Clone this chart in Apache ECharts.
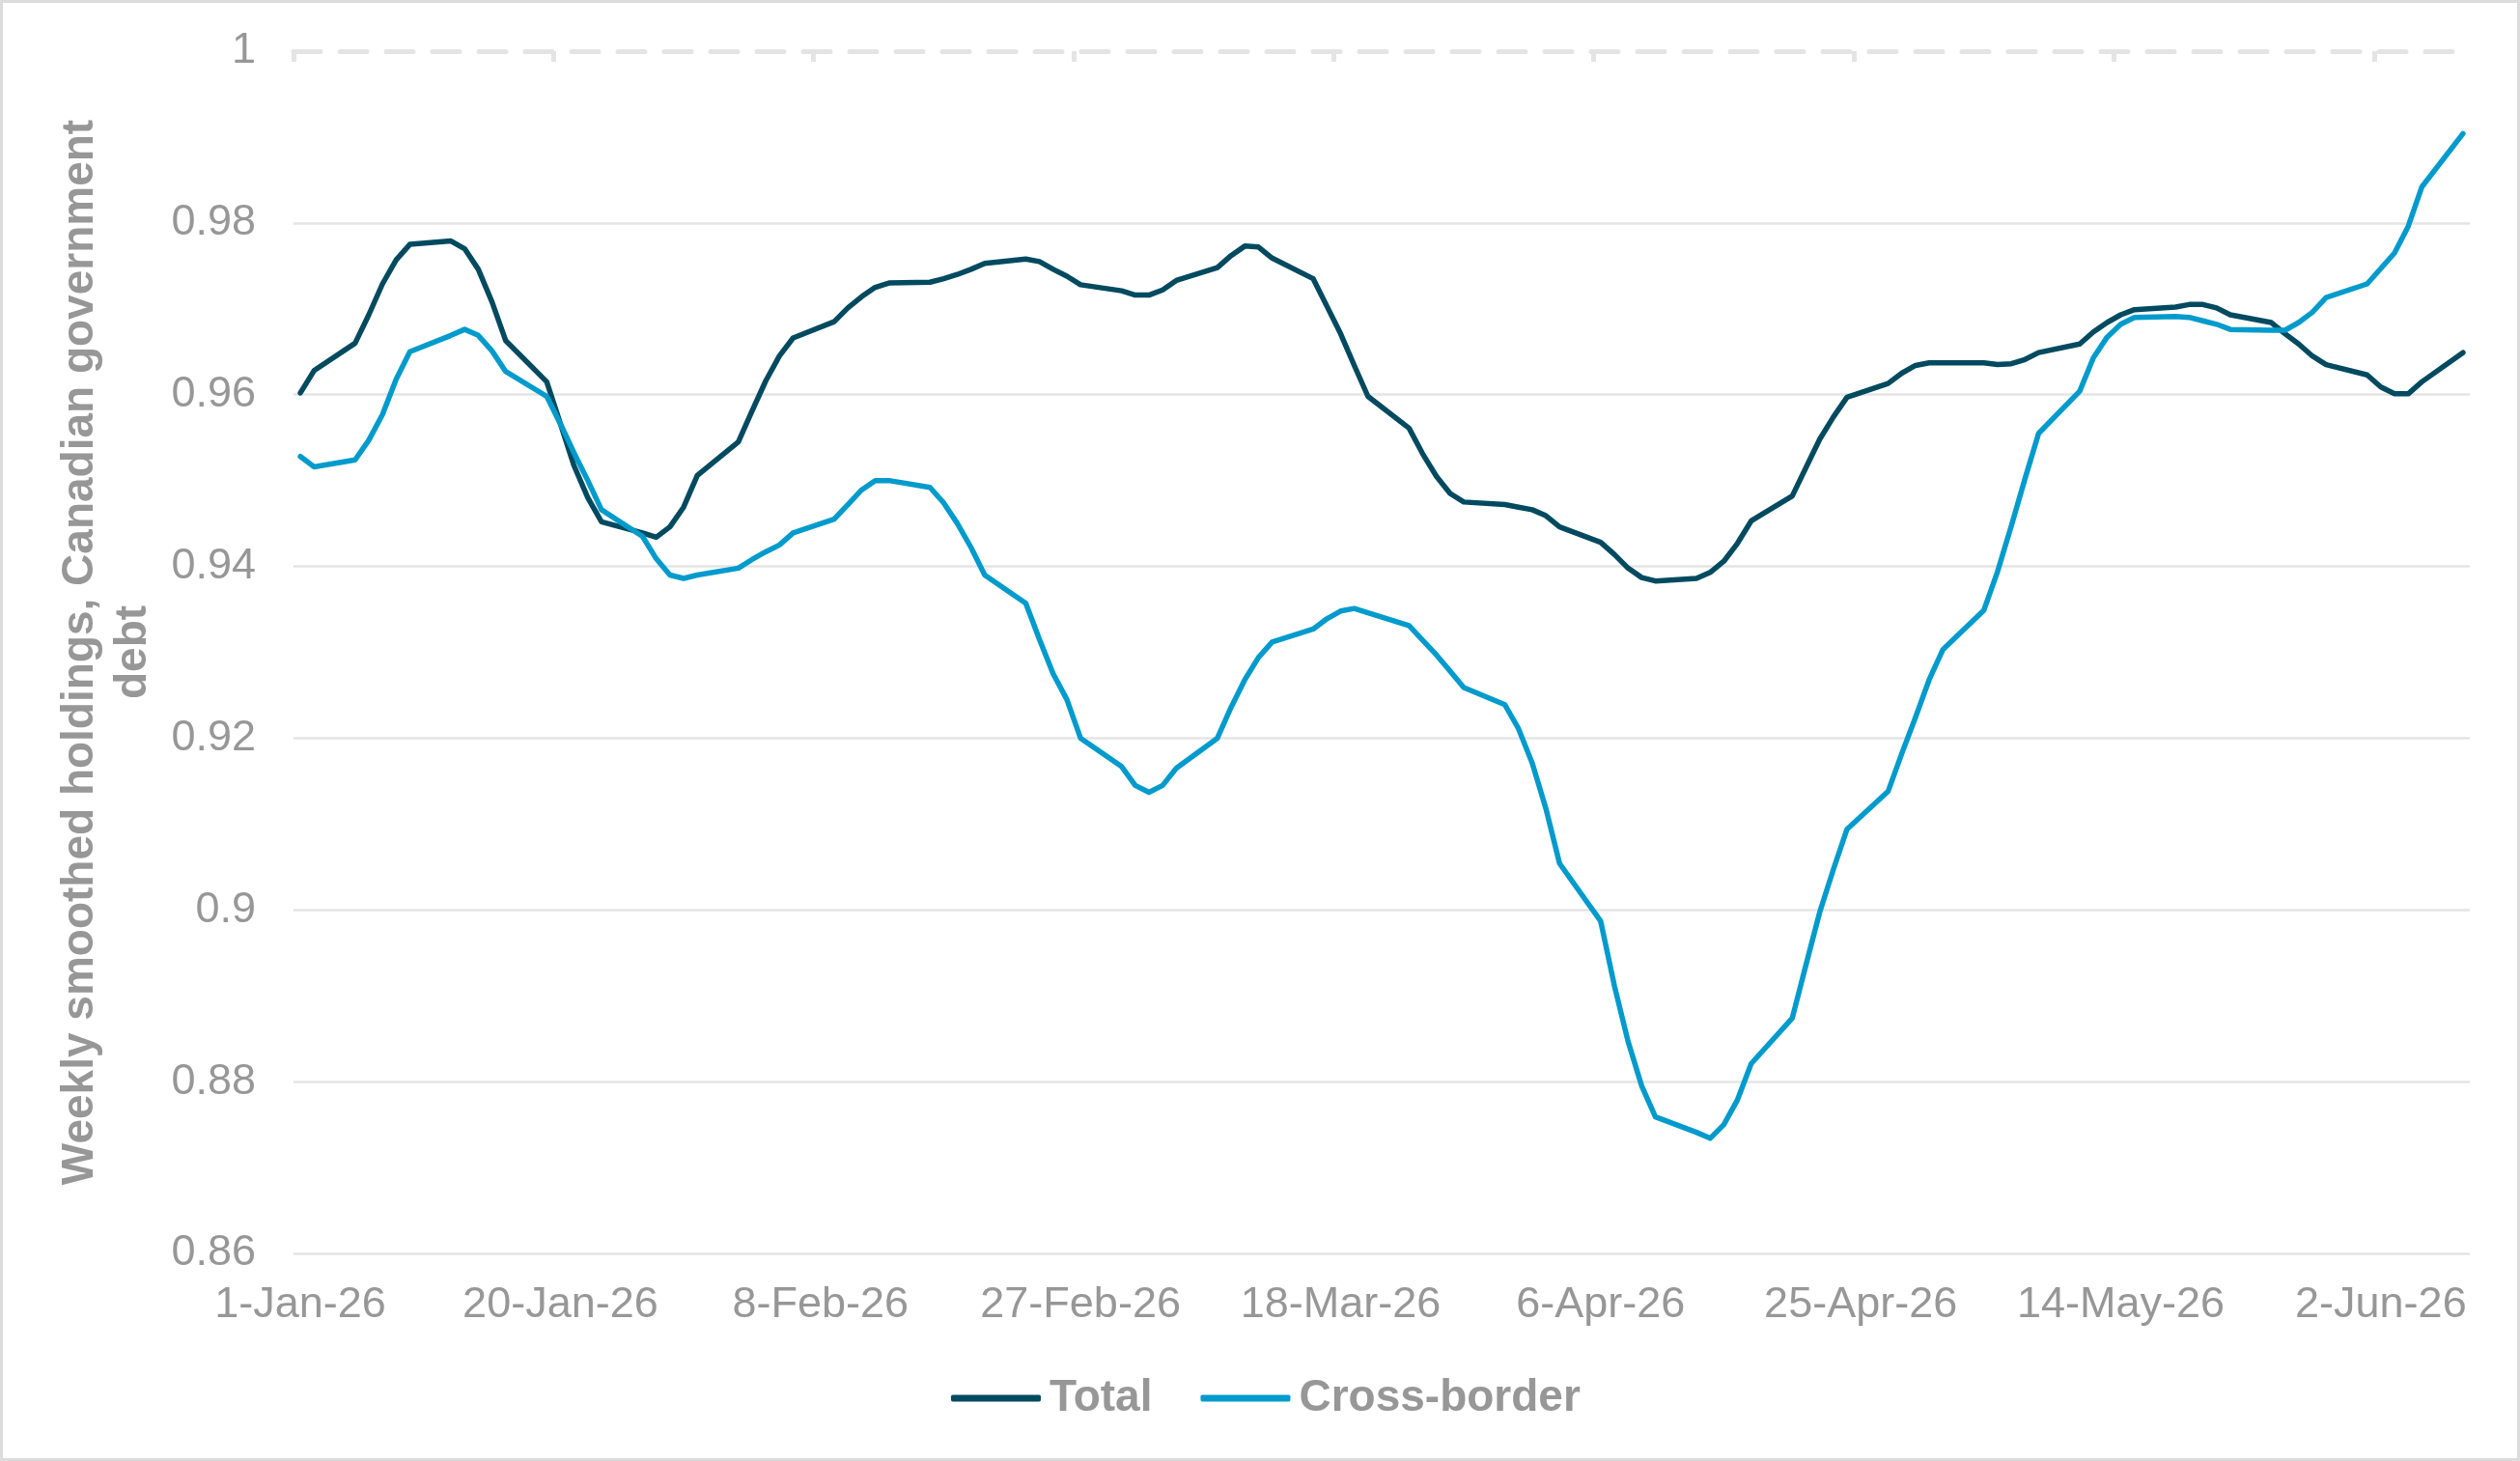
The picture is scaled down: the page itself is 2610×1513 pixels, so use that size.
<!DOCTYPE html>
<html><head><meta charset="utf-8">
<script src="https://cdn.jsdelivr.net/npm/echarts@6/dist/echarts.min.js"></script>
<style>html,body{margin:0;padding:0;background:#fff}#c{width:2610px;height:1513px}</style>
</head><body><div id="c"></div>
<script>
// Business-day observations
const dates = [
 '2026-01-01','2026-01-02','2026-01-05','2026-01-06','2026-01-07','2026-01-08','2026-01-09','2026-01-12','2026-01-13','2026-01-14','2026-01-15','2026-01-16','2026-01-19','2026-01-20','2026-01-21','2026-01-22','2026-01-23','2026-01-26','2026-01-27','2026-01-28','2026-01-29','2026-01-30',
 '2026-02-02','2026-02-03','2026-02-04','2026-02-05','2026-02-06','2026-02-09','2026-02-10','2026-02-11','2026-02-12','2026-02-13','2026-02-16','2026-02-17','2026-02-18','2026-02-19','2026-02-20','2026-02-23','2026-02-24','2026-02-25','2026-02-26','2026-02-27',
 '2026-03-02','2026-03-03','2026-03-04','2026-03-05','2026-03-06','2026-03-09','2026-03-10','2026-03-11','2026-03-12','2026-03-13','2026-03-16','2026-03-17','2026-03-18','2026-03-19','2026-03-20','2026-03-23','2026-03-24','2026-03-25','2026-03-26','2026-03-27','2026-03-30','2026-03-31',
 '2026-04-01','2026-04-02','2026-04-03','2026-04-06','2026-04-07','2026-04-08','2026-04-09','2026-04-10','2026-04-13','2026-04-14','2026-04-15','2026-04-16','2026-04-17','2026-04-20','2026-04-21','2026-04-22','2026-04-23','2026-04-24','2026-04-27','2026-04-28','2026-04-29','2026-04-30',
 '2026-05-01','2026-05-04','2026-05-05','2026-05-06','2026-05-07','2026-05-08','2026-05-11','2026-05-12','2026-05-13','2026-05-14','2026-05-15','2026-05-18','2026-05-19','2026-05-20','2026-05-21','2026-05-22','2026-05-25','2026-05-26','2026-05-27','2026-05-28','2026-05-29',
 '2026-06-01','2026-06-02','2026-06-03','2026-06-04','2026-06-05','2026-06-08'
];
const totalValues = [
 0.9602,0.9628,0.9660,0.9693,0.9729,0.9757,0.9775,0.9779,0.9770,0.9746,0.9708,0.9663,0.9615,0.9566,0.9517,0.9480,0.9452,0.9439,0.9434,0.9446,0.9469,0.9506,
 0.9545,0.9581,0.9616,0.9645,0.9666,0.9685,0.9701,0.9714,0.9725,0.9730,0.9731,0.9735,0.9740,0.9746,0.9753,0.9758,0.9755,0.9746,0.9738,0.9728,
 0.9721,0.9716,0.9716,0.9722,0.9733,0.9748,0.9762,0.9773,0.9772,0.9759,0.9735,0.9703,0.9671,0.9634,0.9598,0.9561,0.9531,0.9505,0.9485,0.9475,0.9472,0.9469,
 0.9466,0.9459,0.9446,0.9428,0.9414,0.9398,0.9387,0.9383,0.9386,0.9393,0.9406,0.9427,0.9453,0.9482,0.9515,0.9548,0.9574,0.9597,0.9613,0.9625,0.9634,0.9637,
 0.9637,0.9637,0.9635,0.9636,0.9641,0.9649,0.9659,0.9673,0.9684,0.9693,0.9699,0.9702,0.9705,0.9705,0.9701,0.9693,0.9684,0.9671,0.9659,0.9645,0.9635,
 0.9623,0.9609,0.9601,0.9601,0.9615,0.9649
];
const crossBorderValues = [
 0.9528,0.9516,0.9524,0.9547,0.9577,0.9618,0.9650,0.9669,0.9676,0.9669,0.9651,0.9627,0.9598,0.9566,0.9532,0.9500,0.9466,0.9435,0.9409,0.9390,0.9386,0.9390,
 0.9398,0.9408,0.9417,0.9425,0.9439,0.9455,0.9472,0.9489,0.9500,0.9500,0.9492,0.9474,0.9450,0.9422,0.9390,0.9357,0.9315,0.9275,0.9245,0.9200,
 0.9167,0.9145,0.9137,0.9145,0.9165,0.9200,0.9236,0.9268,0.9294,0.9312,0.9327,0.9339,0.9348,0.9351,0.9346,0.9331,0.9314,0.9297,0.9278,0.9259,0.9239,0.9211,
 0.9171,0.9118,0.9054,0.8987,0.8912,0.8847,0.8795,0.8759,0.8741,0.8734,0.8750,0.8779,0.8821,0.8874,0.8936,0.8997,0.9047,0.9094,0.9138,0.9182,0.9224,0.9268,
 0.9303,0.9349,0.9394,0.9447,0.9502,0.9555,0.9604,0.9643,0.9667,0.9682,0.9690,0.9691,0.9690,0.9686,0.9682,0.9676,0.9675,0.9675,0.9684,0.9696,0.9713,
 0.9729,0.9747,0.9765,0.9796,0.9842,0.9904
];
const tickLabels = ['1-Jan-26','20-Jan-26','8-Feb-26','27-Feb-26','18-Mar-26','6-Apr-26','25-Apr-26','14-May-26','2-Jun-26'];
const seriesNames = ['Total','Cross-border'];
const yAxisTitle = 'Weekly smoothed holdings, Canadian government\ndebt';

// day index helpers
const MON = {Jan:0,Feb:1,Mar:2,Apr:3,May:4,Jun:5,Jul:6,Aug:7,Sep:8,Oct:9,Nov:10,Dec:11};
const DAY = 86400000;
const base = Date.UTC(2026,0,1);
function dayIso(s){const p=s.split('-').map(Number);return Math.round((Date.UTC(p[0],p[1]-1,p[2])-base)/DAY);}
function dayLabel(s){const p=s.split('-');return Math.round((Date.UTC(2000+Number(p[2]),MON[p[1]],Number(p[0]))-base)/DAY);}
const xs = dates.map(dayIso);
const labelPos = tickLabels.map(dayLabel);
const tickPos = labelPos.map(v=>v-0.5);
const xMin = -0.5, xMax = xs[xs.length-1]+0.5;

const GRAY = '#979797';
const FONT = '"Liberation Sans", Arial, sans-serif';
const GRID = '#e4e4e4';

const chart = echarts.init(document.getElementById('c'));
chart.setOption({
  animation:false,
  backgroundColor:'#fff',
  textStyle:{fontFamily:FONT},
  graphic:[{type:'rect',silent:true,z:-1,shape:{x:1.5,y:1.5,width:2607,height:1510},style:{fill:'none',stroke:'#dcdcdc',lineWidth:3}}],
  grid:{left:304,right:52,top:53,bottom:215},
  legend:{
    data:seriesNames,left:980,top:1420,icon:'roundRect',itemWidth:93,itemHeight:7,itemGap:50,
    textStyle:{fontSize:46,fontWeight:'bold',color:GRAY,fontFamily:FONT,padding:[0,0,0,4]}
  },
  xAxis:[
    {type:'value',min:xMin,max:xMax,position:'bottom',
     axisLine:{show:false},axisTick:{show:false},splitLine:{show:false},
     axisLabel:{customValues:labelPos,formatter:function(v){const i=labelPos.indexOf(Math.round(v));return i>=0?tickLabels[i]:'';},
       fontSize:45,color:GRAY,margin:31,fontFamily:FONT}},
    {type:'value',min:xMin,max:xMax,position:'top',
     axisLine:{show:true,onZero:false,lineStyle:{color:GRID,width:5,type:[28,20]}},
     axisTick:{show:true,inside:true,length:11,customValues:tickPos,lineStyle:{color:GRID,width:5}},
     axisLabel:{show:false},splitLine:{show:false}}
  ],
  yAxis:{
    type:'value',min:0.86,max:1,interval:0.02,
    axisLine:{show:false},axisTick:{show:false},
    splitLine:{show:true,lineStyle:{color:[GRID,GRID,GRID,GRID,GRID,GRID,GRID,'rgba(0,0,0,0)'],width:2.5}},
    axisLabel:{fontSize:45,color:GRAY,margin:39,fontFamily:FONT},
    name:yAxisTitle,nameLocation:'middle',nameRotate:90,nameGap:138,
    nameTextStyle:{fontSize:46,fontWeight:'bold',color:GRAY,lineHeight:55,fontFamily:FONT,align:'center'}
  },
  series:[
    {name:seriesNames[0],type:'line',xAxisIndex:0,symbol:'none',showSymbol:false,
     data:xs.map((x,i)=>[x,totalValues[i]]),
     lineStyle:{color:'#004a60',width:5.5,join:'round',cap:'round'},itemStyle:{color:'#004a60'}},
    {name:seriesNames[1],type:'line',xAxisIndex:0,symbol:'none',showSymbol:false,
     data:xs.map((x,i)=>[x,crossBorderValues[i]]),
     lineStyle:{color:'#009bcc',width:5.5,join:'round',cap:'round'},itemStyle:{color:'#009bcc'}}
  ]
});
</script>
</body></html>
